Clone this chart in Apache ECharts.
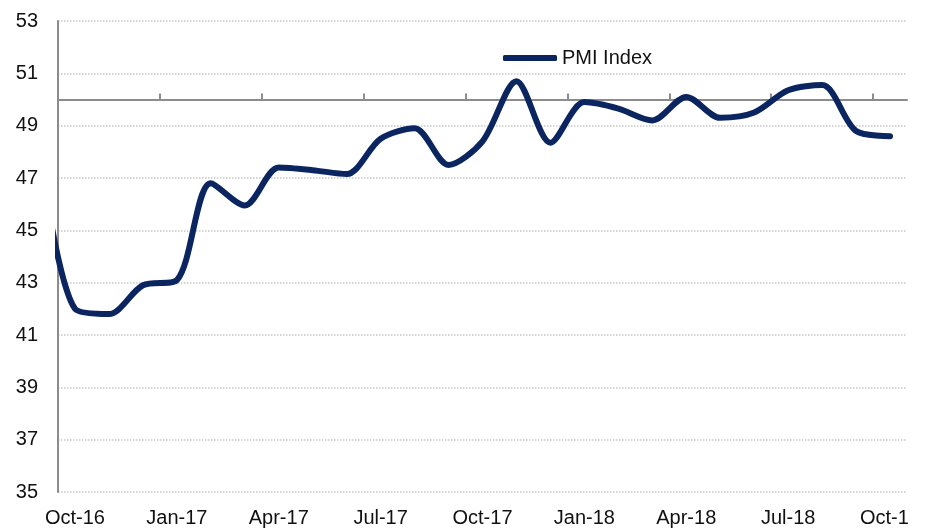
<!DOCTYPE html>
<html>
<head>
<meta charset="utf-8">
<script src="https://cdn.jsdelivr.net/npm/echarts@6/dist/echarts.min.js"></script>
<style>
  html, body { margin: 0; padding: 0; background: #fff; }
  #pmiChart { width: 936px; height: 528px; }
</style>
</head>
<body>
<div id="pmiChart"></div>
<script>
// months shown on the axis
var months = ['Oct-16', 'Nov-16', 'Dec-16', 'Jan-17', 'Feb-17', 'Mar-17', 'Apr-17', 'May-17', 'Jun-17',
              'Jul-17', 'Aug-17', 'Sep-17', 'Oct-17', 'Nov-17', 'Dec-17', 'Jan-18', 'Feb-18', 'Mar-18',
              'Apr-18', 'May-18', 'Jun-18', 'Jul-18', 'Aug-18', 'Sep-18', 'Oct-18'];
// Sep-16 value sits just left of the plot and is clipped by the axis
var prevMonth = 47.6;
var pmiValues = [42.0, 41.8, 42.9, 43.1, 46.8, 45.95, 47.4, 47.3, 47.15,
                 48.5, 48.9, 47.5, 48.4, 50.7, 48.35, 49.9, 49.65, 49.2,
                 50.1, 49.3, 49.5, 50.35, 50.55, 48.8, 48.6];
var yMin = 35, yMax = 53, yStep = 2;
var refLevel = 50;

var font = 'Liberation Sans, Arial, sans-serif';
var chart = echarts.init(document.getElementById('pmiChart'));

// points: index 0 = Sep-16, 1 = Oct-16 ...
var points = [[0, prevMonth]];
pmiValues.forEach(function (v, i) { points.push([i + 1, v]); });

// boundaries between months, used only for the quarter ticks
var edges = months.concat(['']);

var gridTop = 21, gridBottom = 36, gridHeight = 528 - gridTop - gridBottom;
var refOffset = -gridHeight * (refLevel - yMin) / (yMax - yMin);

var option = {
    animation: false,
    backgroundColor: '#fff',
    grid: { left: 58, right: 29, top: gridTop, bottom: gridBottom },
    legend: {
        data: ['PMI Index'],
        icon: 'roundRect',
        left: 498,
        top: 43,
        itemWidth: 54,
        itemHeight: 6,
        textStyle: { fontFamily: font, fontSize: 20, color: '#111' }
    },
    xAxis: [
        {
            // line at 50 with the quarter ticks
            type: 'category',
            data: edges,
            boundaryGap: false,
            position: 'bottom',
            offset: refOffset,
            axisLine: { show: true, lineStyle: { color: '#8c8c8c', width: 2 } },
            axisTick: { show: true, inside: true, interval: 2, length: 6, lineStyle: { color: '#8c8c8c', width: 2 } },
            axisLabel: { show: false },
            splitLine: { show: false }
        },
        {
            // labels along the bottom
            type: 'category',
            data: months,
            boundaryGap: true,
            position: 'bottom',
            axisLine: { show: false },
            axisTick: { show: false },
            axisLabel: { interval: 2, margin: 16, fontFamily: font, fontSize: 20, color: '#111' },
            splitLine: { show: false }
        },
        {
            type: 'value',
            min: 0.5,
            max: months.length + 0.5,
            show: false
        }
    ],
    yAxis: {
        type: 'value',
        min: yMin,
        max: yMax,
        interval: yStep,
        axisLine: { show: true, lineStyle: { color: '#8c8c8c', width: 2 } },
        axisTick: { show: false },
        axisLabel: { margin: 20, fontFamily: font, fontSize: 20, color: '#111' },
        splitLine: { show: true, lineStyle: { color: '#c8c8c8', type: 'dotted', width: 1.5 } }
    },
    series: [
        {
            name: 'PMI Index',
            type: 'line',
            xAxisIndex: 2,
            data: points,
            smooth: 0.3,
            symbol: 'none',
            clip: true,
            lineStyle: { color: '#0b2561', width: 6, cap: 'round', join: 'round' },
            itemStyle: { color: '#0b2561' },
            z: 3
        }
    ],
    graphic: [
        // the last label is cut by the picture edge
        { type: 'rect', shape: { x: 910, y: 500, width: 30, height: 30 }, style: { fill: '#fff' }, z: 100 }
    ]
};

chart.setOption(option);
</script>
</body>
</html>
